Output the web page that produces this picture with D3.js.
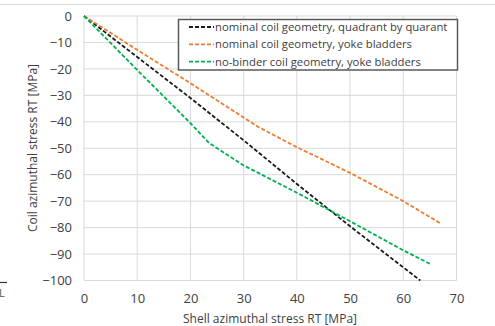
<!DOCTYPE html>
<html>
<head>
<meta charset="utf-8">
<script src="https://cdn.jsdelivr.net/npm/d3@7"></script>
<style>
  body { margin: 0; background: #fff; }
  svg { display: block; font-family: "Open Sans", "Noto Sans", sans-serif; }
</style>
</head>
<body>
<svg width="495" height="326"></svg>
<script>
// shell stress (x) vs coil stress (y)
let seriesNames = [
  'nominal coil geometry, quadrant by quarant',
  'nominal coil geometry, yoke bladders',
  'no-binder coil geometry, yoke bladders'
];
let seriesColors = ['#1a1a1a', '#ed7d31', '#00b050'];

let quadX = [0, 10, 20, 30, 40, 50, 63.2];
let quadY = [0, -15.5, -31, -47, -63.5, -79.5, -100];

let yokeX = [0, 10, 20, 32.7, 40, 50, 60, 66.9];
let yokeY = [0, -12.8, -25.4, -41.9, -49.6, -59.3, -70, -78.3];

let noBinderX = [0, 10, 20, 23.5, 30, 40, 50, 60, 65];
let noBinderY = [0, -20.4, -40.5, -48, -56.5, -66.8, -77.6, -88.6, -93.7];

let xTicks = [0, 10, 20, 30, 40, 50, 60, 70];
let yTicks = [0, -10, -20, -30, -40, -50, -60, -70, -80, -90, -100];

let svg = d3.select('svg');

let mLeft = 84, mRight = 456.5, mTop = 16, mBottom = 280.5;

let x = d3.scaleLinear().domain([0, 70]).range([mLeft, mRight]);
let y = d3.scaleLinear().domain([-100, 0]).range([mBottom, mTop]);

// outer chart border line (top)
svg.append('line')
  .attr('x1', 0).attr('x2', 495)
  .attr('y1', 4.5).attr('y2', 4.5)
  .attr('stroke', '#d9d9d9');

// grid
svg.append('g')
  .selectAll('line')
  .data(xTicks)
  .enter()
  .append('line')
  .attr('x1', d => x(d)).attr('x2', d => x(d))
  .attr('y1', mTop).attr('y2', mBottom)
  .attr('stroke', '#d9d9d9')
  .attr('stroke-width', 1);

svg.append('g')
  .selectAll('line')
  .data(yTicks)
  .enter()
  .append('line')
  .attr('x1', mLeft).attr('x2', mRight)
  .attr('y1', d => y(d)).attr('y2', d => y(d))
  .attr('stroke', '#d9d9d9')
  .attr('stroke-width', 1);

// tick labels via axes
let xAxis = d3.axisBottom(x).tickValues(xTicks).tickSize(0).tickPadding(13);
let yAxis = d3.axisLeft(y).tickValues(yTicks).tickSize(0).tickPadding(12);

let gx = svg.append('g')
  .attr('transform', 'translate(0,' + mBottom + ')')
  .call(xAxis);
let gy = svg.append('g')
  .attr('transform', 'translate(' + mLeft + ',0)')
  .call(yAxis);

[gx, gy].forEach(g => {
  g.select('.domain').remove();
  g.selectAll('text')
    .attr('font-size', 13)
    .attr('font-family', '"Open Sans", sans-serif')
    .attr('fill', '#404040');
});

// axis titles
svg.append('text')
  .attr('x', 270).attr('y', 323)
  .attr('text-anchor', 'middle')
  .attr('font-size', 12)
  .attr('fill', '#404040')
  .text('Shell azimuthal stress RT [MPa]');

svg.append('text')
  .attr('transform', 'translate(37,148) rotate(-90)')
  .attr('text-anchor', 'middle')
  .attr('font-size', 12)
  .attr('fill', '#404040')
  .text('Coil azimuthal stress RT [MPa]');

// lines
let allSeries = [
  quadX.map((v, i) => [v, quadY[i]]),
  yokeX.map((v, i) => [v, yokeY[i]]),
  noBinderX.map((v, i) => [v, noBinderY[i]])
];

let line = d3.line()
  .x(d => x(d[0]))
  .y(d => y(d[1]));

allSeries.forEach(function(s, idx) {
  svg.append('path')
    .datum(s)
    .attr('fill', 'none')
    .attr('stroke', seriesColors[idx])
    .attr('stroke-width', 1.8)
    .attr('stroke-dasharray', '4,2')
    .attr('d', line);
});

// legend
let legend = svg.append('g');
legend.append('rect')
  .attr('x', 178.5).attr('y', 19.5)
  .attr('width', 279).attr('height', 50.5)
  .attr('fill', '#fff')
  .attr('stroke', '#595959')
  .attr('stroke-width', 1.5);

seriesNames.forEach(function(name, idx) {
  let ly = 27 + idx * 17.3;
  legend.append('line')
    .attr('x1', 189).attr('x2', 214)
    .attr('y1', ly).attr('y2', ly)
    .attr('stroke', seriesColors[idx])
    .attr('stroke-width', 1.8)
    .attr('stroke-dasharray', '4,2');
  legend.append('text')
    .attr('x', 215).attr('y', ly + 4)
    .attr('font-size', 11.3)
    .attr('fill', '#404040')
    .text(name);
});

// leftover edge fragments seen at the bottom left
svg.append('line')
  .attr('x1', 0).attr('x2', 7)
  .attr('y1', 282.5).attr('y2', 282.5)
  .attr('stroke', '#333')
  .attr('stroke-width', 1.2);
svg.append('text')
  .attr('x', -1).attr('y', 297)
  .attr('font-size', 11)
  .attr('fill', '#555')
  .text('L');
</script>
</body>
</html>
